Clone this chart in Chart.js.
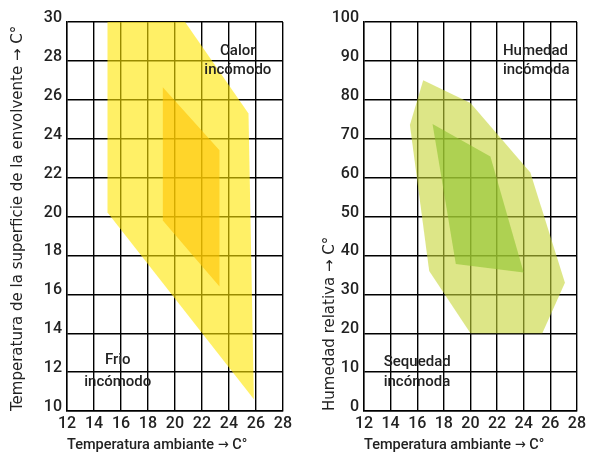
<!DOCTYPE html>
<html>
<head>
<meta charset="utf-8">
<script src="https://cdn.jsdelivr.net/npm/chart.js@4/dist/chart.umd.min.js"></script>
<style>
  body { margin: 0; background: #fff; width: 589px; height: 455px; position: relative; overflow: hidden; }
  canvas { position: absolute; top: 0; }
  #tempChart { left: 0; }
  #humChart { left: 294px; }
</style>
</head>
<body>
<canvas id="tempChart" width="295" height="455"></canvas>
<canvas id="humChart" width="295" height="455"></canvas>
<script>
// ambient temperature axis (both charts)
const ambientTicks = [12, 14, 16, 18, 20, 22, 24, 26, 28];
const surfaceTicks = [10, 12, 14, 16, 18, 20, 22, 24, 26, 28, 30];
const humidityTicks = [0, 10, 20, 30, 40, 50, 60, 70, 80, 90, 100];

// left chart: surface temperature comfort zones
const surfOuterX = [15, 20.75, 25.45, 25.85, 15];
const surfOuterY = [30, 30, 25.3, 10.6, 20.2];
const surfInnerX = [19.1, 23.3, 23.3, 19.1];
const surfInnerY = [26.65, 23.4, 16.4, 19.8];

// right chart: relative humidity comfort zones
const humOuterX = [15.45, 16.45, 20, 24.5, 27.1, 25.4, 20, 16.9];
const humOuterY = [73.5, 85, 79.2, 61.3, 33, 20, 20, 36];
const humInnerX = [17.15, 21.5, 24, 18.9];
const humInnerY = [73.8, 65.4, 35.6, 37.8];

const FONT = "Roboto, 'DejaVu Sans Condensed', sans-serif";
const TITLE_FONT = "'DejaVu Sans', sans-serif";
Chart.defaults.font.family = FONT;
Chart.defaults.color = '#222';

function pts(xs, ys) {
  return xs.map((x, i) => ({ x: x, y: ys[i] }));
}

function zone(xs, ys, color) {
  return {
    data: pts(xs, ys),
    showLine: true,
    fill: 'shape',
    backgroundColor: color,
    borderWidth: 0,
    pointRadius: 0
  };
}

// text labels inside the plot, placed in data units
const notesPlugin = {
  id: 'notes',
  afterDraw(chart, args, opts) {
    const ctx = chart.ctx;
    const sx = chart.scales.x, sy = chart.scales.y;
    ctx.save();
    ctx.fillStyle = '#222';
    ctx.font = '500 15px ' + FONT;
    ctx.textBaseline = 'middle';
    opts.items.forEach(n => {
      ctx.textAlign = n.align;
      n.lines.forEach((t, i) => {
        ctx.fillText(t, sx.getPixelForValue(n.x), sy.getPixelForValue(n.y[i]));
      });
    });
    ctx.restore();
  }
};

function makeChart(id, datasets, yTicks, yTitle, yWidth, titlePad, padRight, notes) {
  const grid = { color: '#000', lineWidth: 1.4, drawTicks: false };
  return new Chart(document.getElementById(id), {
    type: 'scatter',
    data: { datasets: datasets },
    plugins: [notesPlugin],
    options: {
      responsive: false,
      animation: false,
      devicePixelRatio: 1,
      layout: { padding: { left: 0, top: 22, right: padRight, bottom: 0 } },
      plugins: { legend: { display: false }, tooltip: { enabled: false }, notes: { items: notes } },
      scales: {
        x: {
          type: 'linear',
          min: ambientTicks[0],
          max: ambientTicks[ambientTicks.length - 1],
          afterBuildTicks: s => { s.ticks = ambientTicks.map(v => ({ value: v })); },
          afterFit: s => { s.height = 44; },
          grid: grid,
          border: { color: '#000', width: 1.4 },
          ticks: { padding: 3, font: { size: 16, weight: 500 }, color: '#222', maxRotation: 0, autoSkip: false },
          title: { display: true, align: 'start', text: 'Temperatura ambiante → C°', font: { size: 14.5, weight: 500 }, color: '#222', padding: { top: 0, bottom: 1 } }
        },
        y: {
          type: 'linear',
          min: yTicks[0],
          max: yTicks[yTicks.length - 1],
          afterBuildTicks: s => { s.ticks = yTicks.map(v => ({ value: v })); },
          afterFit: s => { s.width = yWidth; },
          grid: grid,
          border: { color: '#000', width: 1.4 },
          ticks: { padding: 5, labelOffset: -4, font: { size: 16, weight: 500 }, color: '#222', autoSkip: false },
          title: { display: true, align: 'start', text: yTitle, font: { family: TITLE_FONT, size: 15 }, color: '#222', padding: { top: titlePad, bottom: 0 } }
        }
      }
    }
  });
}

makeChart('tempChart',
  [zone(surfInnerX, surfInnerY, 'rgba(255,193,0,0.59)'), zone(surfOuterX, surfOuterY, 'rgba(255,230,0,0.6)')],
  surfaceTicks, 'Temperatura de la superficie de la envolvente → C°', 67, 9, 11,
  [
    { lines: ['Calor', 'incómodo'], x: 24.66, y: [28.5, 27.5], align: 'center' },
    { lines: ['Frio', 'incómodo'], x: 15.76, y: [12.6, 11.5], align: 'center' }
  ]);

makeChart('humChart',
  [zone(humInnerX, humInnerY, 'rgba(143,195,47,0.6)'), zone(humOuterX, humOuterY, 'rgba(198,213,55,0.6)')],
  humidityTicks, 'Humedad relativa → C°', 70, 27, 8,
  [
    { lines: ['Humedad', 'incómoda'], x: 22.44, y: [92.6, 87.5], align: 'left' },
    { lines: ['Sequedad', 'incómoda'], x: 13.48, y: [12.6, 7.5], align: 'left' }
  ]);
</script>
</body>
</html>
